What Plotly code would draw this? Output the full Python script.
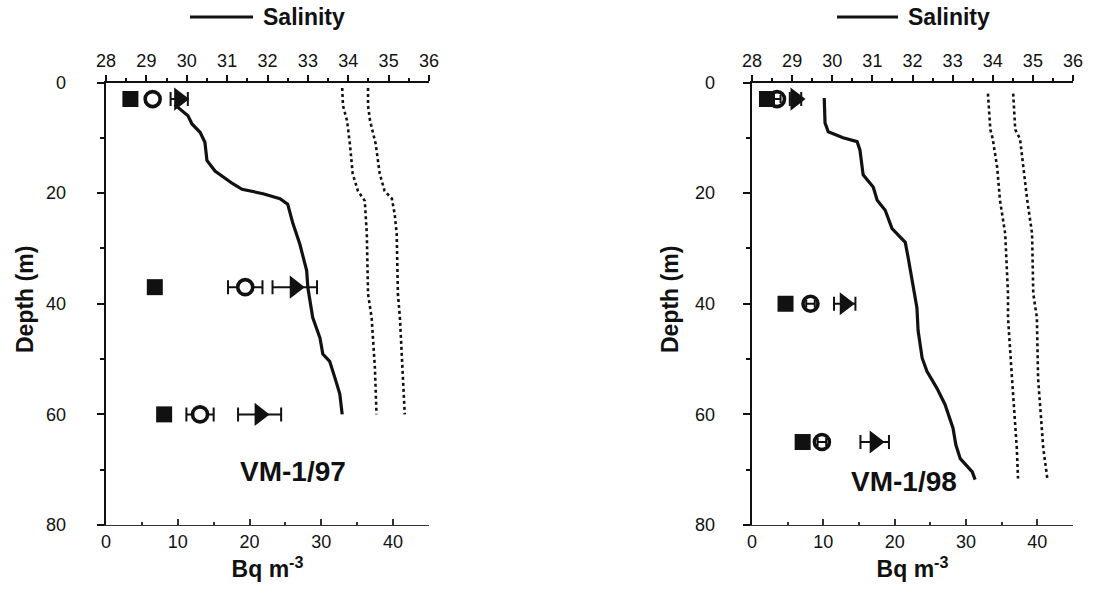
import plotly.graph_objects as go

W, H = 1093, 593

# ---- VM-1/97 station ----
depth_97 = [3, 37, 60]
square_97 = [3.4, 6.8, 8.1]
circle_97 = [6.5, 19.4, 13.1]
circle_97_err = [0.0, 2.4, 1.9]
triangle_97 = [10.2, 26.3, 21.4]
triangle_97_err = [1.2, 3.1, 3.0]

sal_depth_97 = [4.0, 6.0, 7.5, 9.0, 10.8, 14.1, 16.0, 18.3, 19.3, 20.1, 21.0, 22.0,
                25.5, 29.2, 34.0, 37.1, 42.5, 46.2, 49.1, 50.4, 53.4, 56.3, 60.0]
sal_97 = [29.70, 30.03, 30.13, 30.33, 30.45, 30.50, 30.70, 31.14, 31.37, 31.89, 32.31, 32.50,
          32.63, 32.80, 32.97, 33.00, 33.12, 33.30, 33.37, 33.54, 33.67, 33.79, 33.85]

dot_a_depth_97 = [1.0, 4.2, 6.9, 11.1, 16.5, 19.6, 21.4, 27.4, 38.2, 42.6, 51.6, 60.0]
dot_a_97 = [33.85, 33.87, 33.97, 34.04, 34.11, 34.24, 34.41, 34.46, 34.49, 34.58, 34.66, 34.70]
dot_b_depth_97 = [1.0, 4.2, 6.9, 11.1, 16.5, 19.6, 21.0, 23.8, 27.4, 38.2, 42.6, 51.6, 60.0]
dot_b_97 = [34.49, 34.49, 34.54, 34.68, 34.78, 34.90, 35.08, 35.15, 35.20, 35.23, 35.28, 35.35, 35.40]

# ---- VM-1/98 station ----
depth_98 = [3, 40, 65]
square_98 = [2.1, 4.7, 7.1]
circle_98 = [3.5, 8.2, 9.8]
circle_98_err = [0.5, 0.6, 0.6]
triangle_98 = [6.1, 13.0, 17.2]
triangle_98_err = [0.8, 1.5, 2.0]

sal_depth_98 = [2.8, 7.3, 8.9, 10.0, 10.7, 12.2, 16.7, 18.9, 21.3, 23.1, 26.4, 28.9, 31.6,
                35.8, 40.7, 44.9, 49.8, 52.2, 55.3, 58.2, 62.5, 65.5, 68.0, 70.4, 71.8]
sal_98 = [29.80, 29.82, 29.90, 30.27, 30.62, 30.69, 30.77, 31.02, 31.12, 31.32, 31.49, 31.82, 31.89,
          32.00, 32.11, 32.14, 32.24, 32.36, 32.61, 32.81, 33.01, 33.08, 33.19, 33.49, 33.56]

dot_depth_98 = [2.0, 8.5, 10.2, 15.3, 21.3, 27.3, 38.2, 42.5, 53.5, 66.2, 71.6]
dot_a_98 = [33.88, 33.94, 34.00, 34.11, 34.18, 34.31, 34.38, 34.38, 34.48, 34.60, 34.63]
dot_b_98 = [34.51, 34.56, 34.68, 34.76, 34.86, 34.98, 35.01, 35.10, 35.13, 35.26, 35.36]

bq_ticks = [0, 10, 20, 30, 40]
sal_ticks = [28, 29, 30, 31, 32, 33, 34, 35, 36]
depth_ticks = [0, 20, 40, 60, 80]

FONT = "Liberation Sans, Arial, sans-serif"
BLACK = "#111111"

fig = go.Figure()


def add_station(xb, xs, ya, ylab, depth, sq, ci, ci_err, tr, tr_err, circ_open,
                sd, sv, dad, dav, dbd, dbv):
    # salinity profile and the two dotted profiles on the top axis
    fig.add_trace(go.Scatter(x=dav, y=dad, xaxis=xs, yaxis=ya, mode="lines",
                             line=dict(color=BLACK, width=2.6, dash="dot"),
                             showlegend=False, hoverinfo="skip"))
    fig.add_trace(go.Scatter(x=dbv, y=dbd, xaxis=xs, yaxis=ya, mode="lines",
                             line=dict(color=BLACK, width=2.6, dash="dot"),
                             showlegend=False, hoverinfo="skip"))
    fig.add_trace(go.Scatter(x=sv, y=sd, xaxis=xs, yaxis=ya, mode="lines",
                             line=dict(color=BLACK, width=3.2),
                             name="Salinity", showlegend=False))
    # activity concentrations on the bottom axis
    fig.add_trace(go.Scatter(x=sq, y=depth, xaxis=xb, yaxis=ya, mode="markers",
                             marker=dict(symbol="square", size=16, color=BLACK,
                                         line=dict(width=0)),
                             showlegend=False))
    fig.add_trace(go.Scatter(
        x=ci, y=depth, xaxis=xb, yaxis=ya, mode="markers",
        error_x=dict(type="data", array=ci_err, color=BLACK, thickness=2,
                     width=4 if circ_open else 7),
        marker=dict(symbol="circle-open" if circ_open else "circle", size=15,
                    color="white" if not circ_open else BLACK,
                    line=dict(color=BLACK, width=3.6)),
        showlegend=False))
    fig.add_trace(go.Scatter(
        x=tr, y=depth, xaxis=xb, yaxis=ya, mode="markers",
        error_x=dict(type="data", array=tr_err, color=BLACK, thickness=2, width=7),
        marker=dict(symbol="triangle-right", size=20, color=BLACK, line=dict(width=0)),
        showlegend=False))
    # empty trace that carries the free-standing depth label axis
    fig.add_trace(go.Scatter(x=[], y=[], xaxis=xb, yaxis=ylab, mode="markers",
                             showlegend=False, hoverinfo="skip"))


add_station("x", "x3", "y", "y3", depth_97, square_97, circle_97, circle_97_err,
            triangle_97, triangle_97_err, False, sal_depth_97, sal_97,
            dot_a_depth_97, dot_a_97, dot_b_depth_97, dot_b_97)
add_station("x2", "x4", "y2", "y4", depth_98, square_98, circle_98, circle_98_err,
            triangle_98, triangle_98_err, True, sal_depth_98, sal_98,
            dot_depth_98, dot_a_98, dot_depth_98, dot_b_98)

tick_font = dict(family=FONT, size=18, color=BLACK)
title_font = dict(family=FONT, size=23, color=BLACK)

Y_TOP, Y_BOT = 82.5, 525
Y_DOMAIN = [1 - Y_BOT / H, 1 - Y_TOP / H]


def bq_axis(domain, anchor):
    return dict(domain=domain, anchor=anchor, range=[0, 45], tickvals=bq_ticks,
                ticks="inside", ticklen=6, tickwidth=1.5, tickcolor="#333333",
                minor=dict(dtick=5, ticks="inside", ticklen=3, tickwidth=1.5,
                           tickcolor="#333333"),
                showline=True, linewidth=1.2, linecolor="#333333",
                showgrid=False, zeroline=False, tickfont=tick_font,
                automargin=False,
                title=dict(text="<b>Bq m<sup>-3</sup></b>", font=title_font, standoff=10))


def sal_axis(over, anchor):
    return dict(overlaying=over, anchor=anchor, side="top", range=[28, 36],
                tickvals=sal_ticks, ticks="outside", ticklen=6, tickwidth=2,
                tickcolor=BLACK,
                minor=dict(dtick=0.5, ticks="outside", ticklen=3, tickwidth=2,
                           tickcolor=BLACK),
                showline=True, linewidth=2, linecolor=BLACK, showgrid=False,
                zeroline=False, tickfont=tick_font, automargin=False)


def depth_axis(anchor):
    # axis line and tick marks; the numbers sit on a separate label axis
    return dict(domain=Y_DOMAIN, anchor=anchor, range=[80, 0],
                tickvals=depth_ticks, ticks="outside", ticklen=7, tickwidth=2,
                tickcolor=BLACK, showticklabels=False,
                minor=dict(dtick=10, ticks="outside", ticklen=4, tickwidth=2,
                           tickcolor=BLACK),
                showline=True, linewidth=2, linecolor=BLACK, showgrid=False,
                zeroline=False, automargin=False)


def depth_label_axis(over, pos_px):
    return dict(overlaying=over, anchor="free", position=pos_px / W, side="left",
                range=[80, 0], tickvals=depth_ticks, ticks="", showline=False,
                showgrid=False, zeroline=False, tickfont=tick_font,
                automargin=False)


fig.update_layout(
    width=W, height=H,
    margin=dict(l=0, r=0, t=0, b=0),
    paper_bgcolor="white", plot_bgcolor="white",
    showlegend=False,
    xaxis=bq_axis([106 / W, 429 / W], "y"),
    xaxis2=bq_axis([752 / W, 1073 / W], "y2"),
    xaxis3=sal_axis("x", "y"),
    xaxis4=sal_axis("x2", "y2"),
    yaxis=depth_axis("x"),
    yaxis2=depth_axis("x2"),
    yaxis3=depth_label_axis("y", 66),
    yaxis4=depth_label_axis("y2", 715),
)

# depth axis titles
for xt in (25, 670):
    fig.add_annotation(text="<b>Depth (m)</b>", xref="paper", yref="paper",
                       x=xt / W, y=1 - 300 / H, textangle=-90,
                       xanchor="center", yanchor="middle", showarrow=False,
                       font=title_font)

# legend keys for the salinity line
for x0, x1, xt in [(190, 253, 261), (837, 898, 906)]:
    fig.add_shape(type="line", xref="paper", yref="paper",
                  x0=x0 / W, x1=x1 / W, y0=1 - 17 / H, y1=1 - 17 / H,
                  line=dict(color=BLACK, width=3))
    fig.add_annotation(text="<b>Salinity</b>", xref="paper", yref="paper",
                       x=xt / W, y=1 - 17 / H, xanchor="left", yanchor="middle",
                       showarrow=False, font=dict(family=FONT, size=23, color=BLACK))

# station labels
fig.add_annotation(text="<b>VM-1/97</b>", xref="x", yref="y", x=26, y=70.3,
                   showarrow=False, font=dict(family=FONT, size=28, color=BLACK))
fig.add_annotation(text="<b>VM-1/98</b>", xref="x2", yref="y2", x=21.3, y=72.2,
                   showarrow=False, font=dict(family=FONT, size=28, color=BLACK))

fig.write_html("out.html")
